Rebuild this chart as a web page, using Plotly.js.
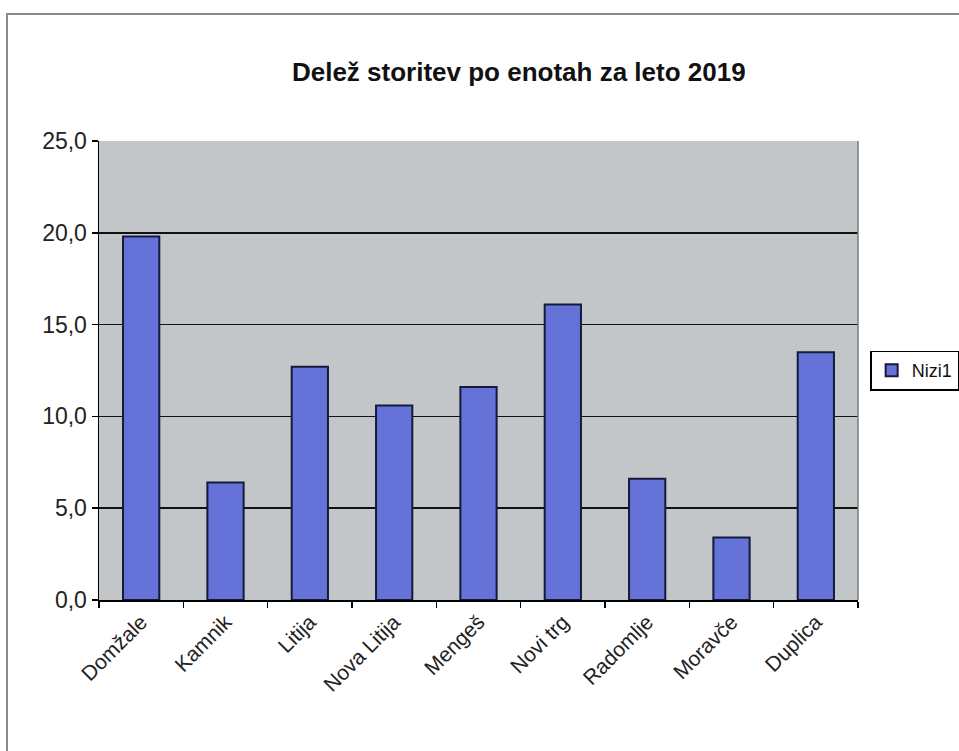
<!DOCTYPE html>
<html>
<head>
<meta charset="utf-8">
<script src="https://cdn.plot.ly/plotly-3.0.1.min.js"></script>
<style>
html,body{margin:0;padding:0;background:#fff;}
#chart{width:959px;height:751px;}
#frame{position:absolute;left:6px;top:13px;width:1000px;height:800px;border-top:2px solid #8a8a8a;border-left:2px solid #8a8a8a;pointer-events:none;}
</style>
</head>
<body>
<div id="chart"></div>
<div id="frame"></div>
<script>
var categories = ["Domžale", "Kamnik", "Litija", "Nova Litija", "Mengeš", "Novi trg", "Radomlje", "Moravče", "Duplica"];
var values = [19.8, 6.4, 12.7, 10.6, 11.6, 16.1, 6.6, 3.4, 13.5];
var seriesName = "Nizi1";
var titleText = "Delež storitev po enotah za leto 2019";

var trace = {
  type: "bar",
  x: categories,
  y: values,
  name: seriesName,
  showlegend: true,
  marker: {color: "#6573d8", line: {color: "#141a3c", width: 2}},
  hoverinfo: "x+y"
};

var layout = {
  width: 959, height: 751,
  paper_bgcolor: "#ffffff",
  plot_bgcolor: "#c3c6c8",
  separators: ",.",
  margin: {l: 99, r: 101, t: 141, b: 151, autoexpand: false},
  bargap: 0.57,
  font: {family: "Liberation Sans, Arial, sans-serif", color: "#000"},
  title: {
    text: "<b>" + titleText + "</b>",
    font: {size: 26, color: "#111"},
    x: 0.541, xanchor: "center",
    y: 1 - 72/751, yanchor: "middle"
  },
  xaxis: {
    type: "category",
    tickangle: -45,
    tickson: "boundaries",
    ticks: "outside", ticklen: 6, tickcolor: "#000", tickwidth: 1.5,
    showline: true, linecolor: "#000", linewidth: 1.5, mirror: false,
    showgrid: false,
    tickfont: {size: 21, color: "#222"}
  },
  yaxis: {
    range: [0, 25], dtick: 5, tickformat: ".1f",
    ticks: "outside", ticklen: 6, tickcolor: "#000", tickwidth: 1.5,
    showline: true, linecolor: "#000", linewidth: 1.5,
    showgrid: true, gridcolor: "#111", gridwidth: 1.5,
    zeroline: false,
    tickfont: {size: 23, color: "#222"}
  },
  shapes: [
    {type: "line", xref: "paper", yref: "paper", x0: 1, x1: 1, y0: 0, y1: 1, line: {color: "#7a7a7a", width: 1.5}}
  ],
  legend: {
    x: 1.016, xanchor: "left", y: 0.5, yanchor: "middle",
    bordercolor: "#000", borderwidth: 1.5, bgcolor: "#fff",
    font: {size: 18, color: "#111"},
    itemwidth: 30, itemsizing: "constant"
  }
};

Plotly.newPlot("chart", [trace], layout, {displayModeBar: false, staticPlot: true});
</script>
</body>
</html>
